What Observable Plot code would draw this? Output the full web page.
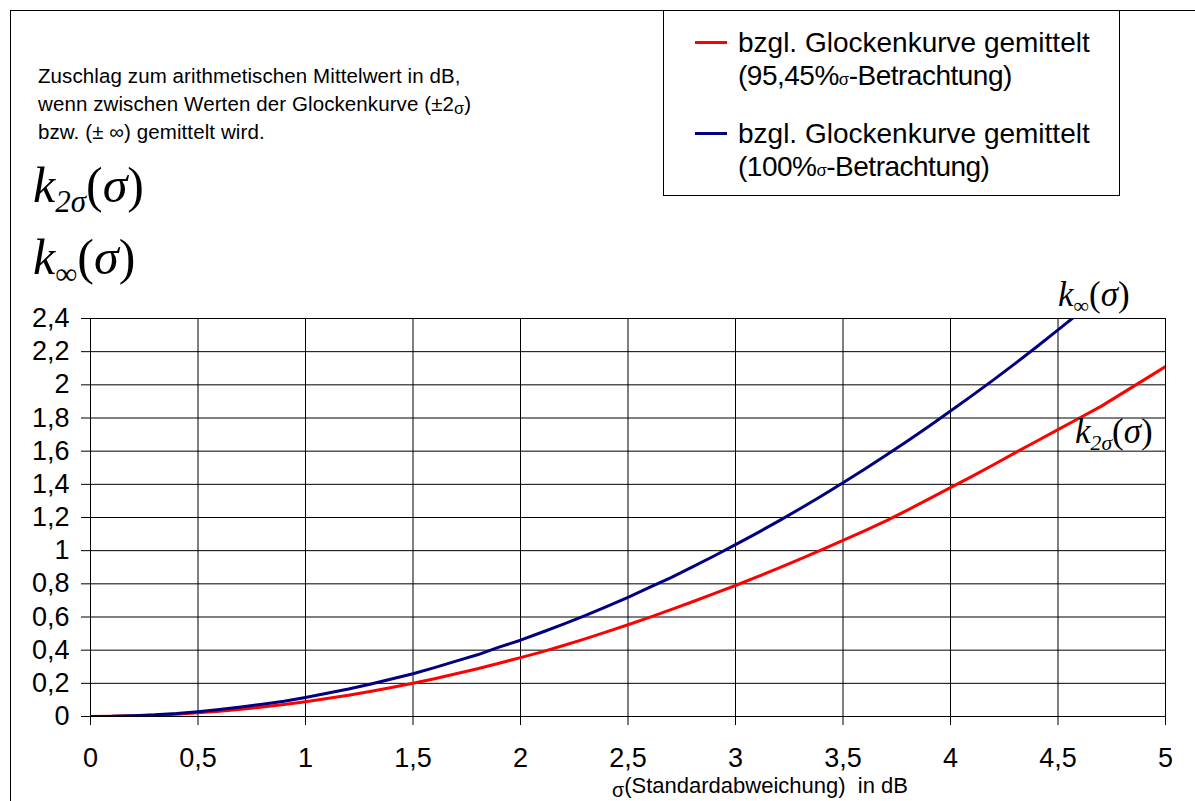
<!DOCTYPE html>
<html>
<head>
<meta charset="utf-8">
<script src="https://cdn.jsdelivr.net/npm/d3@7"></script>
<script src="https://cdn.jsdelivr.net/npm/@observablehq/plot@0.6"></script>
<style>
  html, body { margin: 0; padding: 0; background: #fff; }
  #wrap { position: relative; width: 1195px; height: 801px; overflow: hidden; background: #fff; font-family: "Liberation Sans", Arial, sans-serif; }
  #chart { position: absolute; left: 0; top: 0; }
  .abs { position: absolute; white-space: pre; color: #000; }
  .sub { font-size: 0.62em; position: relative; top: 0.32em; }
</style>
</head>
<body>
<div id="wrap">
  <div id="chart"></div>
</div>
<script>
// ---- data ----
const sigma = [0,0.1,0.2,0.3,0.4,0.5,0.6,0.7,0.8,0.9,1.0,1.1,1.2,1.3,1.4,1.5,1.6,1.7,1.8,1.9,2.0,2.1,2.2,2.3,2.4,2.5,2.6,2.7,2.8,2.9,3.0,3.1,3.2,3.3,3.4,3.5,3.6,3.7,3.8,3.9,4.0,4.1,4.2,4.3,4.4,4.5,4.6,4.7,4.8,4.9,5.0];
// k_2σ(σ): bzgl. Glockenkurve gemittelt (95,45%σ-Betrachtung)
const k2sigma = [0,0.001,0.004,0.008,0.014,0.022,0.032,0.044,0.057,0.072,0.089,0.108,0.128,0.151,0.175,0.2,0.228,0.258,0.288,0.321,0.355,0.39,0.428,0.468,0.51,0.553,0.598,0.644,0.692,0.741,0.79,0.842,0.895,0.949,1.005,1.062,1.12,1.18,1.245,1.312,1.38,1.448,1.518,1.59,1.66,1.73,1.8,1.87,1.95,2.03,2.11];
// k_∞(σ): bzgl. Glockenkurve gemittelt (100%σ-Betrachtung)
const kInf = [0,0.001,0.005,0.01,0.018,0.029,0.042,0.057,0.074,0.092,0.115,0.14,0.166,0.195,0.226,0.258,0.295,0.334,0.372,0.418,0.46,0.508,0.557,0.608,0.662,0.719,0.778,0.838,0.902,0.968,1.036,1.106,1.178,1.253,1.33,1.41,1.491,1.576,1.662,1.75,1.842,1.935,2.03,2.128,2.228,2.331,2.435];
const xTicks = [0,0.5,1,1.5,2,2.5,3,3.5,4,4.5,5];
const xTickLabels = ["0","0,5","1","1,5","2","2,5","3","3,5","4","4,5","5"];
const yTicks = [0,0.2,0.4,0.6,0.8,1,1.2,1.4,1.6,1.8,2,2.2,2.4];
const yTickLabels = ["0","0,2","0,4","0,6","0,8","1","1,2","1,4","1,6","1,8","2","2,2","2,4"];
const seriesNames = ["bzgl. Glockenkurve gemittelt|(95,45%σ-Betrachtung)", "bzgl. Glockenkurve gemittelt|(100%σ-Betrachtung)"];
const seriesColors = ["#ff0000", "#000080"];
const descLines = ["Zuschlag zum arithmetischen Mittelwert in dB,", "wenn zwischen Werten der Glockenkurve (±2σ)", "bzw. (± ∞) gemittelt wird."];
const xTitle = "(Standardabweichung)  in dB";

// ---- table ----
const rows = [];
k2sigma.forEach((v, i) => rows.push({s: sigma[i], k: v, series: 0}));
kInf.forEach((v, i) => rows.push({s: sigma[i], k: v, series: 1}));

const fmtX = d => xTickLabels[xTicks.indexOf(d)];
const fmtY = d => yTickLabels[yTicks.indexOf(d)];

const chart = Plot.plot({
  width: 1195,
  height: 801,
  marginLeft: 90,
  marginRight: 30,
  marginTop: 318,
  marginBottom: 85,
  style: {fontFamily: "'Liberation Sans', Arial, sans-serif", fontSize: "27px", background: "transparent", overflow: "visible"},
  x: {domain: [0, 5]},
  y: {domain: [0, 2.4]},
  marks: [
    Plot.ruleY(yTicks, {y: d => d, stroke: "#000", strokeWidth: 1}),
    Plot.ruleX(xTicks, {x: d => d, stroke: "#000", strokeWidth: 1}),
    Plot.axisY({ticks: yTicks, tickFormat: fmtY, tickSize: 9, tickPadding: 12, label: null, stroke: "#000", fill: "#000"}),
    Plot.axisX({ticks: xTicks, tickFormat: fmtX, tickSize: 9, tickPadding: 22, label: null, stroke: "#000", fill: "#000"}),
    Plot.line(rows.filter(d => d.series === 0), {x: "s", y: "k", stroke: seriesColors[0], strokeWidth: 3, clip: true}),
    Plot.line(rows.filter(d => d.series === 1), {x: "s", y: "k", stroke: seriesColors[1], strokeWidth: 3, clip: true})
  ]
});
const wrap = document.getElementById("wrap");
document.getElementById("chart").appendChild(chart);

function add(html, style) {
  const d = document.createElement("div");
  d.className = "abs";
  d.innerHTML = html;
  Object.assign(d.style, style);
  wrap.appendChild(d);
  return d;
}

// outer frame (top and left edges visible)
add("", {left: "10px", top: "10px", width: "1300px", height: "900px", border: "1px solid #000", boxSizing: "border-box"});

// description text
descLines.forEach((t, i) => {
  let h = t.replace("±2σ", "±2<span style='font-size:0.8em;position:relative;top:0.2em'>σ</span>");
  add(h, {left: "38px", top: (64 + i * 28) + "px", fontSize: "20.5px", letterSpacing: "0.1px", lineHeight: "24px"});
});

// big math labels on the left
const serif = "'Liberation Serif', 'Times New Roman', serif";
add("<i>k</i><span class='sub'><i>2σ</i></span>(<i>σ</i>)", {left: "33px", top: "157px", fontSize: "50px", lineHeight: "56px", fontFamily: serif});
add("<i>k</i><span class='sub'>∞</span>(<i>σ</i>)", {left: "33px", top: "229px", fontSize: "50px", lineHeight: "56px", fontFamily: serif});

// labels at curve ends
add("<i>k</i><span class='sub'>∞</span>(<i>σ</i>)", {left: "1058px", top: "276px", fontSize: "35px", lineHeight: "38px", fontFamily: serif});
add("<i>k</i><span class='sub'><i>2σ</i></span>(<i>σ</i>)", {left: "1075px", top: "413px", fontSize: "35px", lineHeight: "38px", fontFamily: serif});

// legend box
add("", {left: "663px", top: "10px", width: "457px", height: "186px", border: "1px solid #000", boxSizing: "border-box", background: "#fff"});
seriesNames.forEach((n, i) => {
  const [l1, l2] = n.split("|");
  const y0 = 26 + i * 91;
  add("", {left: "695px", top: (y0 + 15) + "px", width: "32px", height: "3px", background: seriesColors[i]});
  const fix = s => s.replace("%σ-", "%<span style='font-size:0.6em'>σ</span>-");
  add(l1, {left: "738px", top: y0 + "px", fontSize: "28px", lineHeight: "33px"});
  add(fix(l2), {left: "738px", top: (y0 + 33) + "px", fontSize: "28px", lineHeight: "33px", letterSpacing: "-0.5px"});
});

// x axis title
add("<span style='font-size:0.9em;position:relative;top:0.2em'>σ</span>" + xTitle, {left: "612px", top: "774px", fontSize: "22px", lineHeight: "24px"});
</script>
</body>
</html>
